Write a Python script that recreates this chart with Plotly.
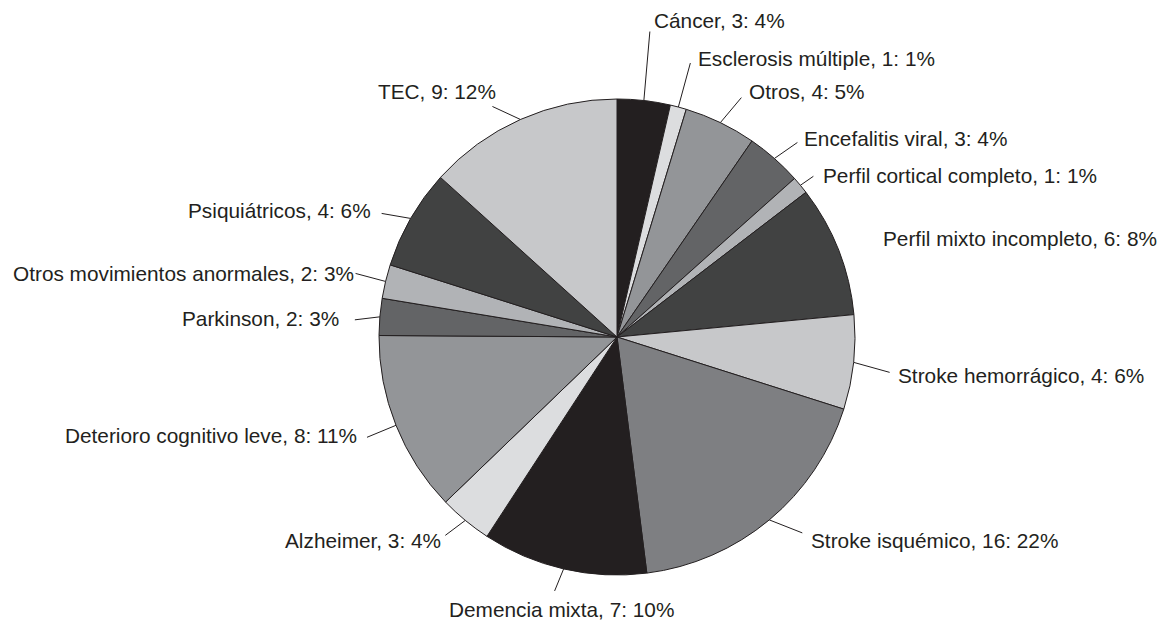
import math
import plotly.graph_objects as go

# ---- data ----
categories = ["Cáncer", "Esclerosis múltiple", "Otros", "Encefalitis viral",
              "Perfil cortical completo", "Perfil mixto incompleto",
              "Stroke hemorrágico", "Stroke isquémico", "Demencia mixta",
              "Alzheimer", "Deterioro cognitivo leve", "Parkinson",
              "Otros movimientos anormales", "Psiquiátricos", "TEC"]
counts = [3, 1, 4, 3, 1, 6, 4, 16, 7, 3, 8, 2, 2, 4, 9]
pct_labels = [4, 1, 5, 4, 1, 8, 6, 22, 10, 4, 11, 3, 3, 6, 12]
# slice sizes as drawn in the picture (share of the circle, %)
slice_share = [3.6, 1.1, 4.9, 3.8, 1.2, 8.9, 6.4, 18.1, 11.2, 3.6, 12.3, 2.5, 2.3, 6.8, 13.3]

# ---- styles ----
colors = ["#231f20", "#dcdddf", "#939598", "#636466", "#b1b3b6", "#414242", "#c7c8ca",
          "#7e7f82", "#231f20", "#dcdddf", "#939598", "#636466", "#b1b3b6", "#414242", "#c7c8ca"]
# text anchor offset from slice tip (px), anchor side, leader end offset (px) or None
label_off = [(9, -80), (19, -49), (28, -31), (29, -20), (22, -10), (43, -12), (43, 13),
             (41, 21), (-116, 41), (-23, 20), (-38, 10), (-40, 2), (-31, -8), (-39, -8), (-23, -28)]
label_anchor = ["left", "left", "left", "left", "left", "left", "left", "left", "left",
                "right", "right", "right", "right", "right", "right"]
line_off = [(6, -69), (12, -44), (21, -25), (23, -16), (13, -9), None, (36, 10), (33, 13),
            (-9, 22), (-20, 15), (-29, 12), (-25, 3), (-30, -8), (-29, -5), (-28, -13)]

PAGE_MARGIN = 8  # browser body margin around the figure
W, H = 1168 - PAGE_MARGIN, 623 - PAGE_MARGIN
CX, CY, R = 617 - PAGE_MARGIN, 337 - PAGE_MARGIN, 238
FONT = dict(family="Liberation Sans, Arial, sans-serif", size=20.8, color="#231f20")

fig = go.Figure(go.Pie(
    labels=categories, values=slice_share, sort=False, direction="clockwise",
    rotation=0, textinfo="none", hoverinfo="label",
    marker=dict(colors=colors, line=dict(color="#231f20", width=1)),
    domain=dict(x=[(CX - R) / W, (CX + R) / W], y=[1 - (CY + R) / H, 1 - (CY - R) / H]),
    showlegend=False,
))

def px2paper(x, y):
    return x / W, 1 - y / H

total = sum(slice_share)
cum = 0.0
annotations, shapes = [], []
for i, v in enumerate(slice_share):
    mid = (cum + v / 2) / total * 2 * math.pi
    cum += v
    tx, ty = CX + R * math.sin(mid), CY - R * math.cos(mid)
    ox, oy = label_off[i]
    ax, ay = px2paper(tx + ox, ty + oy)
    annotations.append(dict(
        x=ax, y=ay, xref="paper", yref="paper", showarrow=False,
        xanchor=label_anchor[i], yanchor="middle", borderpad=0,
        text=f"{categories[i]}, {counts[i]}: {pct_labels[i]}%", font=FONT))
    if line_off[i] is not None:
        lx, ly = line_off[i]
        x0, y0 = px2paper(tx, ty)
        x1, y1 = px2paper(tx + lx, ty + ly)
        shapes.append(dict(type="line", xref="paper", yref="paper", x0=x0, y0=y0,
                           x1=x1, y1=y1, line=dict(color="#231f20", width=1)))

fig.update_layout(width=W, height=H, autosize=False,
                  margin=dict(l=0, r=0, t=0, b=0),
                  paper_bgcolor="white", plot_bgcolor="white",
                  annotations=annotations, shapes=shapes)
fig.write_html("out.html")
